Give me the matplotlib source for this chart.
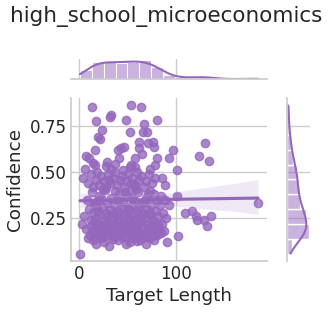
import numpy as np
import pandas as pd
import matplotlib
matplotlib.use("Agg")
import matplotlib.pyplot as plt
import seaborn as sns

# values, grouped by confidence band (low -> high)
target_length = [
    # 0.06 - 0.15
    1, 14, 18, 22, 26, 31, 35, 40, 44, 48, 52, 56, 60, 63, 67, 69, 73, 77, 90, 9,
    # 0.15 - 0.24
    3, 7, 11, 12, 13, 15, 16, 17, 19, 20,
    21, 23, 24, 25, 27, 28, 29, 30, 32, 33,
    34, 36, 37, 38, 39, 41, 42, 43, 45, 46,
    47, 49, 50, 51, 53, 54, 55, 57, 58, 59,
    61, 62, 64, 65, 66, 68, 70, 71, 72, 74,
    75, 76, 78, 79, 80, 81, 82, 84, 85, 87,
    102, 132, 44, 60, 26,
    # 0.24 - 0.33
    5, 10, 12, 14, 16, 18, 20, 22, 24, 26,
    28, 30, 32, 34, 36, 38, 40, 42, 44, 46,
    48, 50, 52, 54, 56, 58, 60, 62, 64, 66,
    68, 70, 72, 74, 76, 78, 81, 83, 86, 89,
    92, 109, 116, 120, 121, 128, 136, 19, 35, 51, 63, 73,
    # 0.33 - 0.42
    8, 13, 17, 21, 25, 29, 33, 37, 41, 45,
    49, 53, 57, 61, 65, 69, 73, 77, 80, 84,
    88, 101, 184, 15, 27, 39, 47, 55, 59, 67, 71, 23,
    # 0.42 - 0.51
    4, 9, 12, 14, 17, 19, 21, 23, 26, 28,
    30, 32, 35, 37, 39, 42, 44, 46, 48, 50,
    53, 55, 57, 60, 62, 64, 67, 69, 72, 75,
    78, 85, 88, 31, 58,
    # 0.51 - 0.60
    73, 101, 52, 58, 53, 33, 14, 16, 78, 6, 28,
    37, 29, 134, 58, 92, 80, 7, 10, 123, 41, 45,
    # 0.60 - 0.69
    16, 40, 97, 65, 43, 46, 62, 77, 129, 62, 71, 76, 22,
    # 0.69 - 0.78
    20, 24, 52, 66, 70, 67,
    # 0.78 - 0.87
    13, 53, 64, 33, 32, 18, 48, 80,
]

confidence = [
    0.057, 0.13, 0.11, 0.14, 0.12, 0.10, 0.135, 0.13, 0.145, 0.11,
    0.12, 0.14, 0.125, 0.13, 0.145, 0.11, 0.14, 0.13, 0.12, 0.14,
    0.22, 0.19, 0.16, 0.21, 0.18, 0.23, 0.15, 0.20, 0.17, 0.22,
    0.16, 0.19, 0.21, 0.15, 0.18, 0.23, 0.17, 0.20, 0.16, 0.22,
    0.19, 0.15, 0.21, 0.18, 0.23, 0.16, 0.20, 0.17, 0.22, 0.19,
    0.15, 0.21, 0.18, 0.23, 0.16, 0.20, 0.17, 0.22, 0.19, 0.15,
    0.21, 0.18, 0.23, 0.16, 0.20, 0.17, 0.22, 0.19, 0.15, 0.21,
    0.18, 0.23, 0.16, 0.20, 0.16, 0.22, 0.19, 0.17, 0.22, 0.18,
    0.155, 0.21, 0.165, 0.185, 0.205,
    0.26, 0.30, 0.24, 0.28, 0.32, 0.25, 0.29, 0.27, 0.31, 0.24,
    0.28, 0.26, 0.30, 0.25, 0.32, 0.27, 0.29, 0.24, 0.31, 0.26,
    0.28, 0.30, 0.25, 0.32, 0.27, 0.24, 0.29, 0.31, 0.26, 0.28,
    0.25, 0.30, 0.27, 0.32, 0.24, 0.29, 0.26, 0.32, 0.28, 0.25,
    0.32, 0.28, 0.29, 0.26, 0.24, 0.24, 0.26, 0.31, 0.27, 0.30, 0.25, 0.28,
    0.35, 0.39, 0.34, 0.37, 0.41, 0.33, 0.36, 0.40, 0.38, 0.34,
    0.37, 0.41, 0.35, 0.39, 0.33, 0.36, 0.40, 0.38, 0.345, 0.37,
    0.35, 0.37, 0.334, 0.33, 0.405, 0.35, 0.39, 0.36, 0.41, 0.34, 0.38, 0.36,
    0.47, 0.44, 0.49, 0.42, 0.46, 0.50, 0.43, 0.48, 0.45, 0.42,
    0.49, 0.44, 0.47, 0.50, 0.43, 0.46, 0.48, 0.42, 0.45, 0.49,
    0.44, 0.47, 0.43, 0.50, 0.46, 0.48, 0.42, 0.45, 0.49, 0.44,
    0.47, 0.47, 0.43, 0.46, 0.43,
    0.516, 0.51, 0.53, 0.53, 0.54, 0.52, 0.55, 0.54, 0.54, 0.52, 0.535,
    0.545, 0.556, 0.56, 0.575, 0.575, 0.575, 0.59, 0.575, 0.59, 0.58, 0.51,
    0.62, 0.62, 0.62, 0.60, 0.63, 0.64, 0.632, 0.635, 0.66, 0.665, 0.66, 0.665, 0.68,
    0.69, 0.73, 0.717, 0.717, 0.717, 0.762,
    0.857, 0.864, 0.855, 0.81, 0.80, 0.78, 0.784, 0.787,
]

df = pd.DataFrame({"Target Length": target_length, "Confidence": confidence})

sns.set_theme(style="whitegrid", font_scale=1.1)

g = sns.jointplot(data=df, x="Target Length", y="Confidence", kind="reg",
                  color="tab:purple", height=3.16, joint_kws={"seed": 0})
fig = g.figure
fig.set_size_inches(3.32, 3.16)

# place the three axes like in the reference (figure fractions)
g.ax_joint.set_position([0.214, 0.174, 0.590, 0.516])
g.ax_marg_x.set_position([0.214, 0.750, 0.590, 0.063])
g.ax_marg_y.set_position([0.864, 0.174, 0.069, 0.516])

g.ax_joint.set_xticks([0, 100])
g.ax_joint.set_yticks([0.25, 0.50, 0.75])
g.ax_joint.tick_params(axis="both", length=0, pad=3)
g.ax_joint.xaxis.labelpad = 3
g.ax_joint.yaxis.labelpad = 4

fig.suptitle("high_school_microeconomics", fontsize=15.5)

fig.savefig("out.png", dpi=100)
